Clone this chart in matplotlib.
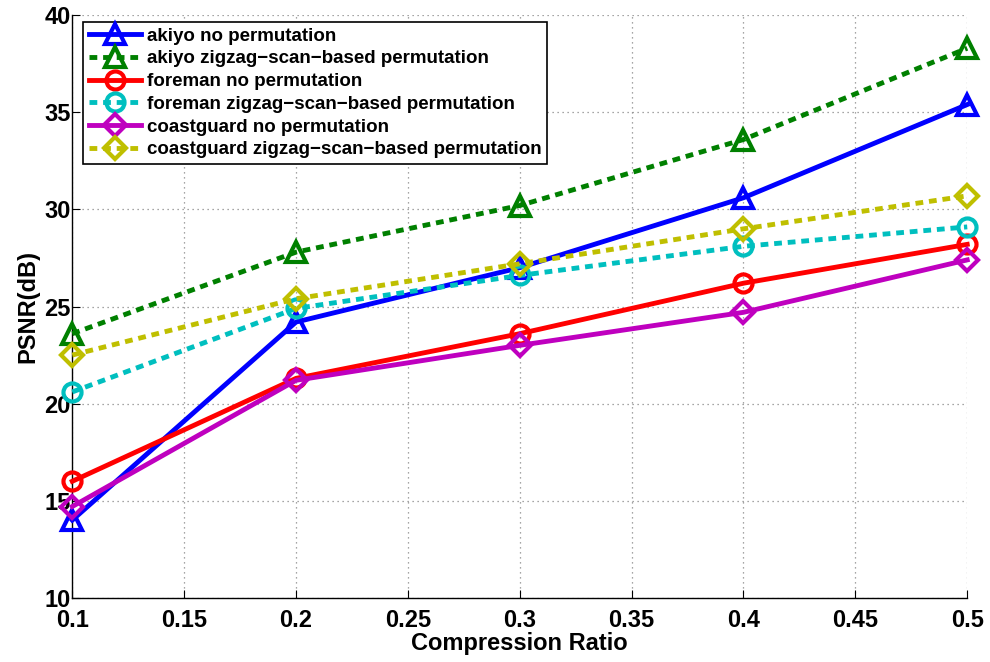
import matplotlib
matplotlib.use("Agg")
import matplotlib.pyplot as plt

ratios = [0.1, 0.2, 0.3, 0.4, 0.5]
akiyo_no = [14.0, 24.2, 27.0, 30.6, 35.4]
akiyo_zz = [23.6, 27.8, 30.2, 33.6, 38.3]
foreman_no = [16.0, 21.3, 23.6, 26.2, 28.2]
foreman_zz = [20.6, 24.9, 26.6, 28.1, 29.1]
coast_no = [14.7, 21.2, 23.0, 24.7, 27.4]
coast_zz = [22.5, 25.4, 27.2, 29.0, 30.7]

labels = ["akiyo no permutation",
          "akiyo zigzag\u2212scan\u2212based permutation",
          "foreman no permutation",
          "foreman zigzag\u2212scan\u2212based permutation",
          "coastguard no permutation",
          "coastguard zigzag\u2212scan\u2212based permutation"]
xticks = [0.1, 0.15, 0.2, 0.25, 0.3, 0.35, 0.4, 0.45, 0.5]
yticks = [10, 15, 20, 25, 30, 35, 40]

plt.rcParams['font.family'] = ['Liberation Sans', 'DejaVu Sans']
plt.rcParams['font.weight'] = 'bold'

fig = plt.figure(figsize=(9.9, 6.62), dpi=100)
ax = fig.add_axes([0.073, 0.097, 0.904, 0.88])

series = [akiyo_no, akiyo_zz, foreman_no, foreman_zz, coast_no, coast_zz]
colors = ['#0000ff', '#008000', '#ff0000', '#00bfbf', '#bf00bf', '#bfbf00']
markers = ['^', '^', 'o', 'o', 'D', 'D']
msizes = [14, 14, 13, 13, 11, 11]
dotted = (0, (1.6, 1.2))
styles = ['-', dotted, '-', dotted, '-', dotted]
for s, c, m, ms, ls, lab in zip(series, colors, markers, msizes, styles, labels):
    ax.plot(ratios, s, color=c, marker=m, linestyle=ls, linewidth=3.5,
            markersize=ms, markerfacecolor='none', markeredgewidth=3.0,
            dash_capstyle='butt', label=lab, clip_on=False, zorder=3)

ax.set_xlim(0.1, 0.5)
ax.set_ylim(10, 40)
ax.set_xticks(xticks)
ax.set_xticklabels([f"{t:g}" for t in xticks])
ax.set_yticks(yticks)
ax.grid(True, linestyle=(0, (1, 3)), color='#888888', linewidth=0.9)
ax.set_axisbelow(True)
for sp in ['top', 'right']:
    ax.spines[sp].set_visible(False)
ax.spines['left'].set_linewidth(1.0)
ax.spines['bottom'].set_linewidth(1.0)
ax.tick_params(direction='in', length=6, labelsize=17)
ax.tick_params(axis='x', pad=8)
ax.tick_params(axis='y', pad=1)
for t in ax.get_xticklabels() + ax.get_yticklabels():
    t.set_fontweight('bold')
ax.set_xlabel("Compression Ratio", fontsize=17, fontweight='bold', labelpad=0)
ax.set_ylabel("PSNR(dB)", fontsize=17, fontweight='bold', labelpad=4)

leg = ax.legend(loc='upper left', bbox_to_anchor=(0.008, 0.995),
                prop={'weight': 'bold', 'size': 13.5}, fancybox=False,
                framealpha=1, edgecolor='black', handlelength=2.8,
                borderpad=0.3, labelspacing=0.3, handletextpad=0.3,
                borderaxespad=0.2)
leg.get_frame().set_linewidth(1.2)

fig.savefig("out.png", dpi=100)
